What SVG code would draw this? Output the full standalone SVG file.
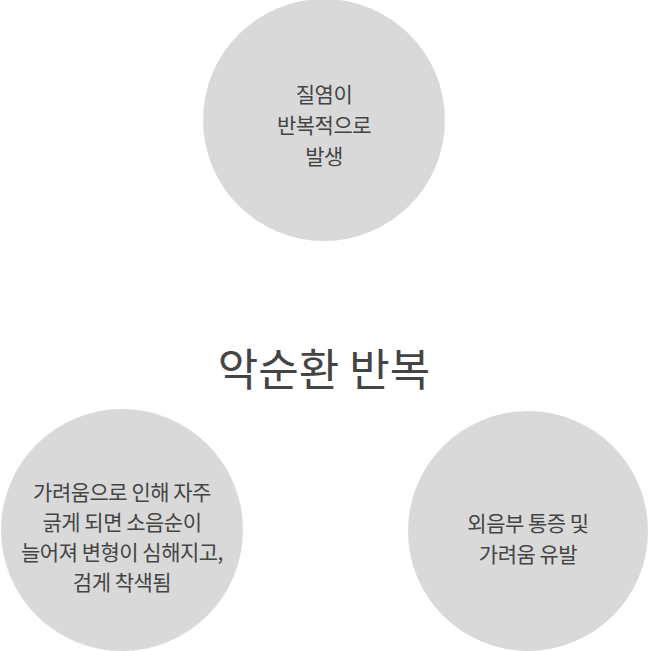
<svg xmlns="http://www.w3.org/2000/svg" width="648" height="651" viewBox="0 0 648 651">
<style>
circle{fill:#d9d9d9}
text{font-family:"Noto Sans CJK KR","Noto Sans",sans-serif;fill:#444;text-anchor:middle}
.n{font-size:21px;letter-spacing:-0.5px}
.t{font-size:44px}
</style>
<rect width="648" height="651" fill="#fff"/>
<g id="top"><circle cx="324" cy="120" r="121"/>
<text class="n" x="324" y="102">질염이</text><text class="n" x="324" y="133">반복적으로</text><text class="n" x="324" y="164">발생</text></g>
<g id="left"><circle cx="122" cy="530" r="121"/>
<text class="n" x="122" y="500">가려움으로 인해 자주</text><text class="n" x="122" y="530">긁게 되면 소음순이</text><text class="n" x="122" y="560">늘어져 변형이 심해지고,</text><text class="n" x="122" y="590">검게 착색됨</text></g>
<g id="right"><circle cx="528" cy="531" r="120"/>
<text class="n" x="528" y="531">외음부 통증 및</text><text class="n" x="528" y="562">가려움 유발</text></g>
<g id="center"><text class="t" x="324" y="386">악순환 반복</text></g>
<g id="connectors"></g>
</svg>
